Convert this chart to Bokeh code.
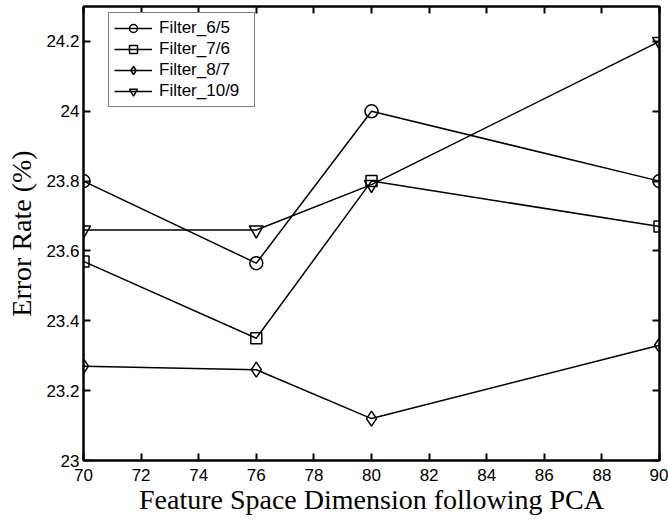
from bokeh.plotting import figure
from bokeh.models import (LinearAxis, FixedTicker, CustomJSTickFormatter, Range1d,
                          Legend, LegendItem)
from bokeh.embed import file_html
from bokeh.resources import INLINE

# Feature space dimension after PCA and the error rate (%) of each filter
dims = [70, 76, 80, 90]
filter_6_5 = [23.80, 23.565, 24.00, 23.80]
filter_7_6 = [23.57, 23.35, 23.80, 23.67]
filter_8_7 = [23.27, 23.26, 23.12, 23.33]
filter_10_9 = [23.66, 23.66, 23.79, 24.20]

series_names = ["Filter_6/5", "Filter_7/6", "Filter_8/7", "Filter_10/9"]
series_values = [filter_6_5, filter_7_6, filter_8_7, filter_10_9]
series_markers = ["circle", "square", "diamond", "inverted_triangle"]
series_sizes = [13, 11, 15, 14]

x_ticks = list(range(70, 91, 2))
y_ticks = [23.0, 23.2, 23.4, 23.6, 23.8, 24.0, 24.2]

TICK_FONT = "Liberation Sans"
LABEL_FONT = "Liberation Serif"

W, H = 668, 521
BORDER_L, BORDER_R, BORDER_T, BORDER_B = 83, 9, 6, 61

p = figure(width=W, height=H, output_backend="svg", toolbar_location=None,
           x_range=Range1d(70, 90), y_range=Range1d(23, 24.3),
           min_border_left=BORDER_L, min_border_right=BORDER_R,
           min_border_top=BORDER_T, min_border_bottom=BORDER_B,
           x_axis_label="Feature Space Dimension following PCA",
           y_axis_label="Error Rate (%)")
p.grid.visible = False
p.outline_line_color = "black"
p.outline_line_width = 2
p.background_fill_color = "white"
p.border_fill_color = "white"

fmt = CustomJSTickFormatter(code="return String(Math.round(tick * 10) / 10);")

bottom_axis = p.below[0]
left_axis = p.left[0]
bottom_axis.ticker = FixedTicker(ticks=x_ticks, minor_ticks=[])
left_axis.ticker = FixedTicker(ticks=y_ticks, minor_ticks=[])
bottom_axis.formatter = fmt
left_axis.formatter = fmt

# Mirror axes on the right and top carry the inward ticks only
top_axis = LinearAxis(ticker=FixedTicker(ticks=x_ticks, minor_ticks=[]), formatter=fmt)
right_axis = LinearAxis(ticker=FixedTicker(ticks=y_ticks, minor_ticks=[]), formatter=fmt)
p.add_layout(top_axis, "above")
p.add_layout(right_axis, "right")

for ax in [bottom_axis, left_axis, top_axis, right_axis]:
    ax.axis_line_color = "black"
    ax.axis_line_width = 2
    ax.major_tick_in = 7
    ax.major_tick_out = 0
    ax.major_tick_line_width = 2
    ax.major_tick_line_color = "black"
    ax.minor_tick_line_color = None
    ax.major_label_text_font = TICK_FONT
    ax.major_label_text_font_size = "17px"
    ax.major_label_text_color = "black"
    ax.axis_label_text_font = LABEL_FONT
    ax.axis_label_text_font_style = "normal"
    ax.axis_label_text_font_size = "28px"
    ax.axis_label_text_color = "black"

for ax in [top_axis, right_axis]:
    ax.major_label_text_font_size = "0px"
    ax.major_label_standoff = 0
    ax.major_label_text_color = None

bottom_axis.major_label_standoff = 8
bottom_axis.axis_label_standoff = 0
left_axis.major_label_standoff = 4
left_axis.axis_label_standoff = 6

items = []
for name, vals, marker, size in zip(series_names, series_values, series_markers, series_sizes):
    ln = p.line(dims, vals, line_color="black", line_width=1.5)
    sc = p.scatter(dims, vals, marker=marker, size=size, fill_color=None,
                   line_color="black", line_width=1.5)
    items.append(LegendItem(label=name, renderers=[ln, sc]))

frame_h = H - BORDER_T - BORDER_B
legend_height = 2 * 5 + 4 * 20 + 3 * 1
legend = Legend(items=items, location=(25, frame_h - 8 - legend_height),
                padding=5, spacing=1, glyph_width=38, glyph_height=20,
                label_height=20, label_width=90, label_standoff=7, margin=0,
                label_text_font=TICK_FONT, label_text_font_size="17px",
                label_text_color="black",
                border_line_color="black", border_line_width=1.5,
                background_fill_color="white", background_fill_alpha=1.0)
p.add_layout(legend, "center")

open("out.html", "w").write(file_html(p, INLINE))
